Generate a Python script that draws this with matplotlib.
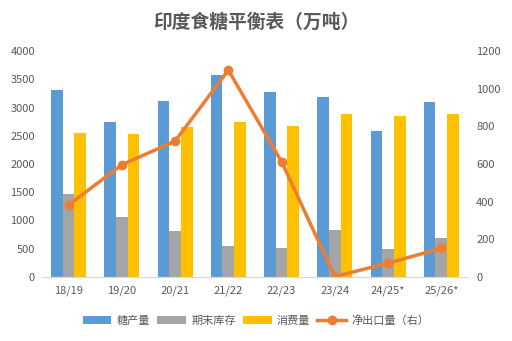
import matplotlib
matplotlib.use("Agg")
import matplotlib.pyplot as plt
import numpy as np

plt.rcParams['font.family'] = ['Noto Sans CJK SC', 'DejaVu Sans']

# 数据
years = ["18/19", "19/20", "20/21", "21/22", "22/23", "23/24", "24/25*", "25/26*"]
produksi = [3310, 2743, 3115, 3581, 3268, 3180, 2584, 3097]
stok = [1469, 1062, 814, 549, 513, 830, 494, 690]
konsumsi = [2549, 2531, 2655, 2743, 2678, 2885, 2843, 2885]
ekspor = [382, 596, 722, 1099, 612, 2, 73, 152]

grey = "#595959"
x = np.arange(len(years))
w = 0.22

fig = plt.figure(figsize=(5.12, 3.41), dpi=100)
ax = fig.add_axes([0.082, 0.188, 0.832, 0.662])

b1 = ax.bar(x - w, produksi, w, color="#5B9BD5", label="糖产量")
b2 = ax.bar(x, stok, w, color="#A5A5A5", label="期末库存")
b3 = ax.bar(x + w, konsumsi, w, color="#FFC000", label="消费量")
ax.set_ylim(0, 4000)
ax.set_yticks(np.arange(0, 4001, 500))
ax.set_xlim(-0.5, len(years) - 0.5)
ax.set_xticks(x)
ax.set_xticklabels(years)

ax2 = ax.twinx()
l1, = ax2.plot(x, ekspor, color="#ED7D31", linewidth=2.5, marker="o",
               markersize=6, label="净出口量（右）")
ax2.set_ylim(0, 1200)
ax2.set_yticks(np.arange(0, 1201, 200))

for a in (ax, ax2):
    for s in ("top", "left", "right"):
        a.spines[s].set_visible(False)
    a.spines["bottom"].set_color("#D9D9D9")
    a.tick_params(length=0, colors=grey, labelsize=8)
ax.tick_params(axis="x", pad=6)
ax.tick_params(axis="y", pad=5)
ax2.tick_params(axis="y", pad=6)

fig.text(0.5, 0.935, "印度食糖平衡表（万吨）", ha="center", va="center",
         fontsize=13.5, fontweight="bold", color=grey)

fig.legend([b1, b2, b3, l1], ["糖产量", "期末库存", "消费量", "净出口量（右）"],
           loc="center", bbox_to_anchor=(0.5, 0.06), ncol=4, frameon=False,
           fontsize=8, labelcolor=grey, handlelength=2.6, columnspacing=0.6,
           handletextpad=0.5)

fig.savefig("out.png", dpi=100)
